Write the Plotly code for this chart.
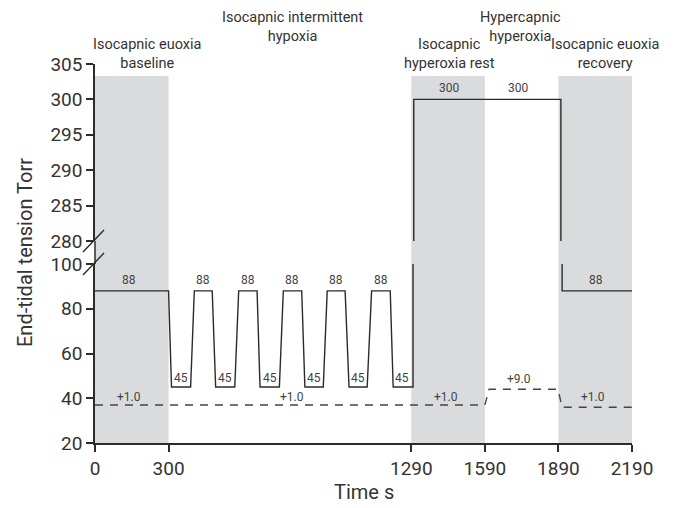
import plotly.graph_objects as go

# ---------------- data ----------------
# End-tidal O2 (lower panel, Torr) during baseline + intermittent hypoxia
o2_time = [0, 300, 312, 390, 405, 478, 492, 570, 586, 661, 673, 752, 768, 843,
           856, 931, 947, 1020, 1036, 1110, 1128, 1204, 1216, 1297, 1297]
o2_val = [88, 88, 45, 45, 88, 88, 45, 45, 88, 88, 45, 45, 88, 88,
          45, 45, 88, 88, 45, 45, 88, 88, 45, 45, 100]
# End-tidal O2 in hyperoxia phases (upper panel)
o2_hi_time = [1300, 1300, 1900, 1900]
o2_hi_val = [280, 300, 300, 280]
# End-tidal O2 in recovery (lower panel)
o2_rec_time = [1905, 1905, 2195]
o2_rec_val = [100, 88, 88]
# End-tidal CO2 (dashed)
co2_time = [0, 1590, 1607, 1888, 1905, 2195]
co2_val = [37, 37, 44, 44, 36, 36]

# shaded phases (s)
band_start = [0, 1290, 1890]
band_end = [300, 1590, 2190]

x_ticks = [0, 300, 1290, 1590, 1890, 2190]
y_low_ticks = [20, 40, 60, 80, 100]
y_high_ticks = [280, 285, 290, 295, 300, 305]

# value labels
lab88_x = [140, 441, 623, 805, 983, 1166, 2042]
lab45_x = [351, 531, 712, 893, 1073, 1253]
co2_lab_x = [139, 802, 1431, 1729, 2031]
co2_lab_text = ["+1.0", "+1.0", "+1.0", "+9.0", "+1.0"]
co2_lab_y = [40.5, 40.5, 40.5, 48.5, 40.5]
hi_lab_x = [1445, 1726]
hi_lab_text = ["300", "300"]

# phase headers
phase_x = [216, 807, 1444, 1735, 2080]
phase_text = ["Isocapnic euoxia<br>baseline",
              "Isocapnic intermittent<br>hypoxia",
              "Isocapnic<br>hyperoxia rest",
              "Hypercapnic<br>hyperoxia",
              "Isocapnic euoxia<br>recovery"]
phase_row = [1, 0, 1, 0, 1]   # 0 = upper row, 1 = lower row

# ---------------- layout geometry ----------------
OFF = 8                      # page body margin
W, H = 678 - OFF, 508 - OFF
ML, MR, MT, MB = 95 - OFF, 46, 64 - OFF, 65
PW, PH = W - ML - MR, H - MT - MB
low_top_px = 264    # screen pixel of y=100
up_bot_px = 241     # screen pixel of y=280
band_top_px = 76


def py(p):
    return (H - MB - (p - OFF)) / PH


def px(p):
    return (p - OFF - ML) / PW


low_dom = [0, py(low_top_px)]
up_dom = [py(up_bot_px), 1]

LINE = "#2b2b2b"
TXT = "#333333"
GRAY = "#dadbdd"
FONT = "Roboto"

fig = go.Figure()

fig.add_trace(go.Scatter(x=o2_time, y=o2_val, mode="lines", xaxis="x", yaxis="y",
                         line=dict(color=LINE, width=1.4), hoverinfo="skip"))
fig.add_trace(go.Scatter(x=o2_rec_time, y=o2_rec_val, mode="lines", xaxis="x", yaxis="y",
                         line=dict(color=LINE, width=1.4), hoverinfo="skip"))
fig.add_trace(go.Scatter(x=co2_time, y=co2_val, mode="lines", xaxis="x", yaxis="y",
                         line=dict(color="#444444", width=1.4, dash="8px,7px"),
                         hoverinfo="skip"))
fig.add_trace(go.Scatter(x=o2_hi_time, y=o2_hi_val, mode="lines", xaxis="x", yaxis="y2",
                         line=dict(color=LINE, width=1.4), hoverinfo="skip"))

shapes = []
for s, e in zip(band_start, band_end):
    shapes.append(dict(type="rect", xref="x", yref="paper", x0=s, x1=e,
                       y0=0, y1=py(band_top_px), fillcolor=GRAY,
                       line=dict(width=0), layer="below"))
# continuous y-axis line through the break
shapes.append(dict(type="line", xref="paper", yref="paper", x0=0, x1=0,
                   y0=low_dom[1], y1=up_dom[0], line=dict(color=LINE, width=1.5)))
# break slashes
for c in (up_bot_px, low_top_px):
    shapes.append(dict(type="line", xref="paper", yref="paper",
                       x0=px(83), y0=py(c + 11), x1=px(104), y1=py(c - 11),
                       line=dict(color=LINE, width=1.4)))

ann = []
small = dict(family=FONT, size=12, color="#444444")


def add_label(x, y, t, yref="y"):
    ann.append(dict(x=x, y=y, xref="x", yref=yref, text=t, showarrow=False,
                    font=small, xanchor="center", yanchor="middle"))


for x in lab88_x:
    add_label(x, 92.8, "88")
for x in lab45_x:
    add_label(x, 49, "45")
for x, t, yv in zip(co2_lab_x, co2_lab_text, co2_lab_y):
    add_label(x, yv, t)
for x, t in zip(hi_lab_x, hi_lab_text):
    add_label(x, 301.6, t, "y2")

head = dict(family=FONT, size=14.5, color=TXT)
row_center_px = [26.5, 54]
for x, t, r in zip(phase_x, phase_text, phase_row):
    ann.append(dict(x=x, y=py(row_center_px[r]), xref="x", yref="paper", text=t,
                    showarrow=False, font=head, xanchor="center", yanchor="middle",
                    borderpad=0, borderwidth=0))

# axis titles
ann.append(dict(x=px(25), y=py(253), xref="paper", yref="paper",
                text="End-tidal tension Torr", textangle=-90, showarrow=False,
                xanchor="center", yanchor="middle",
                font=dict(family=FONT, size=20, color=TXT)))
ann.append(dict(x=px(364), y=py(492), xref="paper", yref="paper", text="Time s",
                showarrow=False, xanchor="center", yanchor="middle",
                font=dict(family=FONT, size=20, color=TXT)))

axis_common = dict(showgrid=False, zeroline=False, showline=True, linecolor=LINE,
                   linewidth=1.5, ticks="outside", ticklen=7, tickwidth=1.5,
                   tickcolor=LINE, tickfont=dict(family=FONT, size=19, color=TXT))

fig.update_layout(
    width=W, height=H,
    margin=dict(l=ML, r=MR, t=MT, b=MB),
    paper_bgcolor="white", plot_bgcolor="rgba(0,0,0,0)",
    showlegend=False,
    xaxis=dict(range=[0, 2190], tickvals=x_ticks, anchor="y", **axis_common),
    yaxis=dict(range=[20, 100], tickvals=y_low_ticks, domain=low_dom, anchor="x",
               **axis_common),
    yaxis2=dict(range=[280, 305], tickvals=y_high_ticks, domain=up_dom, anchor="x",
                **axis_common),
    shapes=shapes,
    annotations=ann,
)

fig.write_html("out.html")
